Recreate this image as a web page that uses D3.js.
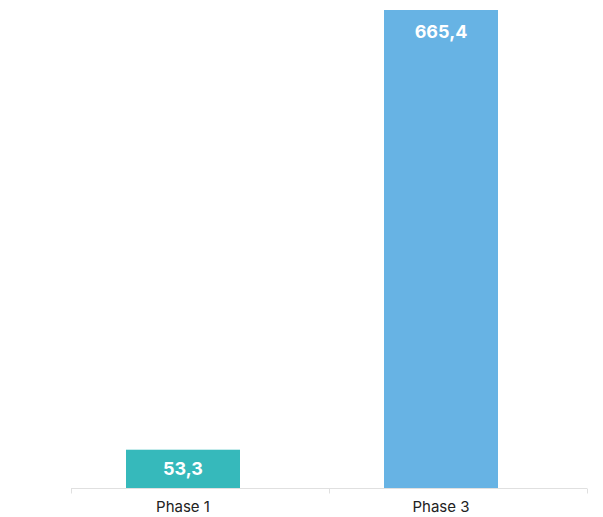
<!DOCTYPE html>
<html>
<head>
<meta charset="utf-8">
<script src="https://cdn.jsdelivr.net/npm/d3@7"></script>
<style>
  body { margin: 0; background: #fff; }
  text { font-family: Inter, "Noto Sans", sans-serif; }
</style>
</head>
<body>
<svg id="chart"></svg>
<script>
// data
const phases = ["Phase 1", "Phase 3"];
const values = [53.3, 665.4];
const labels = ["53,3", "665,4"];
const colors = ["#36b9bb", "#67b3e4"];

const canvWidth = 603;
const canvHeight = 517;

const svg = d3.select("#chart")
    .attr("width", canvWidth)
    .attr("height", canvHeight);

// scales
const x = d3.scaleBand()
    .domain(phases)
    .range([54, 570])
    .paddingInner(1 - 114 / 258)
    .paddingOuter((1 - 114 / 258) / 2);

const y = d3.scaleLinear()
    .domain([0, d3.max(values)])
    .range([488, 10]);

// axis line with ticks between categories
const xLine = d3.scaleLinear().domain([0, phases.length]).range([71, 587]);
const axis = svg.append("g").attr("transform", "translate(0,488.5)");
axis.append("line")
    .attr("x1", xLine(0)).attr("x2", xLine(phases.length))
    .attr("stroke", "#e0e0e0").attr("stroke-width", 1);
axis.selectAll(".tick")
    .data(d3.range(phases.length + 1))
    .enter().append("line")
    .attr("x1", d => Math.round(xLine(d)) + 0.5)
    .attr("x2", d => Math.round(xLine(d)) + 0.5)
    .attr("y1", 0).attr("y2", 5)
    .attr("stroke", "#e0e0e0");

// bars
svg.selectAll(".bar")
    .data(phases)
    .enter().append("rect")
    .attr("class", "bar")
    .attr("x", d => x(d))
    .attr("width", x.bandwidth())
    .attr("y", (d, i) => y(values[i]))
    .attr("height", (d, i) => y(0) - y(values[i]))
    .attr("fill", (d, i) => colors[i]);

// value labels: inside near top, or centred in short bars
svg.selectAll(".val")
    .data(phases)
    .enter().append("text")
    .attr("class", "val")
    .attr("x", d => x(d) + x.bandwidth() / 2)
    .attr("y", (d, i) => Math.min(y(values[i]) + 28, (y(values[i]) + y(0)) / 2 + 6.5))
    .attr("text-anchor", "middle")
    .attr("fill", "#fff")
    .attr("font-weight", 700)
    .attr("font-size", "18px")
    .text((d, i) => labels[i]);

// category labels
svg.selectAll(".cat")
    .data(phases)
    .enter().append("text")
    .attr("class", "cat")
    .attr("x", d => x(d) + x.bandwidth() / 2)
    .attr("y", 512)
    .attr("text-anchor", "middle")
    .attr("fill", "#222")
    .attr("font-size", "15px")
    .text(d => d);
</script>
</body>
</html>
